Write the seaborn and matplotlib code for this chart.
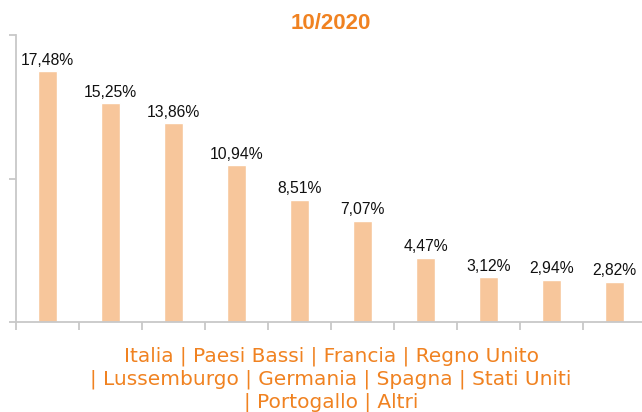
import numpy as np
import pandas as pd
import seaborn as sns
from matplotlib import pyplot as plt

countries = ["Italia", "Paesi Bassi", "Francia", "Regno Unito", "Lussemburgo",
             "Germania", "Spagna", "Stati Uniti", "Portogallo", "Altri"]
shares = [17.48, 15.25, 13.86, 10.94, 8.51, 7.07, 4.47, 3.12, 2.94, 2.82]
title = "10/2020"

orange = "#F08221"
bar_color = "#F7C69B"
axis_gray = "#C8C8C8"

sns.set_style("white")
plt.rcParams['font.family'] = ['Liberation Sans', 'DejaVu Sans']

df = pd.DataFrame({"Country": countries, "Share": shares})

fig = plt.figure(figsize=(6.42, 4.12), dpi=100)
ax = fig.add_axes([16 / 642, 90 / 412, 630 / 642, 287 / 412])

sns.barplot(data=df, x="Country", y="Share", color=bar_color, width=0.29,
            saturation=1, ax=ax)

for i, v in enumerate(shares):
    ax.annotate(f"{v:.2f}%".replace(".", ","), (i, v), xytext=(0, 2.5),
                textcoords="offset points", ha="center", va="bottom",
                fontsize=11.3, color="#111111")

ax.set_xlim(-0.5, 9.5)
ax.set_ylim(0, 20)
ax.set_yticks([0, 10, 20])
ax.set_yticklabels([])
ax.set_xticks(np.arange(-0.5, 10, 1))
ax.set_xticklabels([])
ax.tick_params(axis="both", direction="out", length=5, width=1.3, color=axis_gray)
ax.tick_params(axis="x", length=5.5)
ax.tick_params(axis="y", left=True)
ax.tick_params(axis="x", bottom=True)

for side in ["top", "right"]:
    ax.spines[side].set_visible(False)
for side in ["left", "bottom"]:
    ax.spines[side].set_color(axis_gray)
    ax.spines[side].set_linewidth(1.3)

ax.set_ylabel("")
xl = ax.set_xlabel("Italia | Paesi Bassi | Francia | Regno Unito\n"
                   "| Lussemburgo | Germania | Spagna | Stati Uniti\n"
                   "| Portogallo | Altri",
                   fontsize=14.5, color=orange, linespacing=1.2, labelpad=9)
xl.set_fontfamily(["DejaVu Sans"])
ax.set_title(title, fontsize=16, fontweight="bold", color=orange, pad=4)

fig.savefig("out.png", dpi=100)
